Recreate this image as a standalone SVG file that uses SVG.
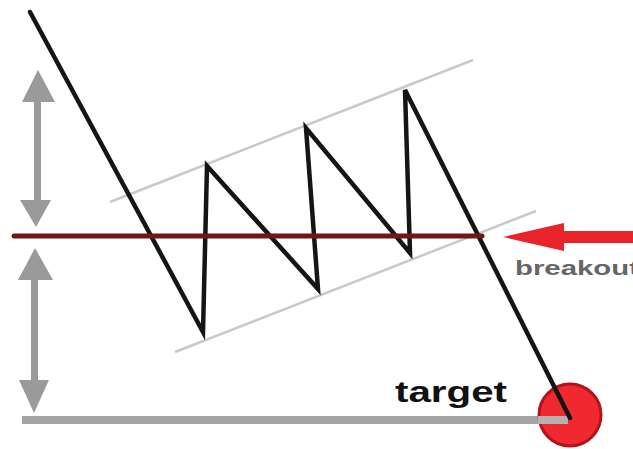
<svg xmlns="http://www.w3.org/2000/svg" width="633" height="449" viewBox="0 0 633 449">
<style>
.chan{stroke:#c9c9c9;stroke-width:2.5;fill:none}
.price{stroke:#151515;stroke-width:4.5;fill:none;stroke-linejoin:miter;stroke-linecap:round}
.garr{fill:#9a9a9a}
.lbl{font-family:"Liberation Sans",Arial,sans-serif;font-weight:bold}
</style>
<rect width="633" height="449" fill="#ffffff"/>
<g id="channel">
<line class="chan" x1="110" y1="202" x2="473" y2="60"/>
<line class="chan" x1="175" y1="352" x2="536" y2="211"/>
</g>
<g id="baseline">
<line x1="22" y1="420" x2="568" y2="420" stroke="#a3a3a3" stroke-width="8"/>
</g>
<g id="target-circle">
<circle cx="570" cy="415" r="31" fill="#f0282f" stroke="#b3141a" stroke-width="3"/>
<line x1="538" y1="420" x2="568" y2="420" stroke="#b8b0b0" stroke-width="8"/>
</g>
<g id="connectors">
<polyline class="price" points="30,12 203,332 207,166 318,289 306,128 410,253 405,90 570,418"/>
<line x1="14" y1="236" x2="482" y2="236" stroke="#6e1719" stroke-width="5" stroke-linecap="round"/>
<g id="range-arrow-top">
<rect class="garr" x="34" y="98" width="7" height="106"/>
<polygon class="garr" points="38,70 55,102 22,102"/>
<polygon class="garr" points="36,227 51,200 20,200"/>
</g>
<g id="range-arrow-bottom">
<rect class="garr" x="31" y="276" width="7" height="108"/>
<polygon class="garr" points="35,248 53,280 18,280"/>
<polygon class="garr" points="34,413 49,380 19,380"/>
</g>
<g id="breakout-arrow">
<rect x="555" y="231" width="78" height="12" fill="#e8232a"/>
<polygon points="503,237 564,223 564,251" fill="#e8232a"/>
</g>
</g>
<g id="labels">
<text class="lbl" x="515" y="275" font-size="21" fill="#666666" textLength="124" lengthAdjust="spacingAndGlyphs">breakout</text>
<text class="lbl" x="395" y="402" font-size="30" fill="#111111" textLength="112" lengthAdjust="spacingAndGlyphs">target</text>
</g>
</svg>
